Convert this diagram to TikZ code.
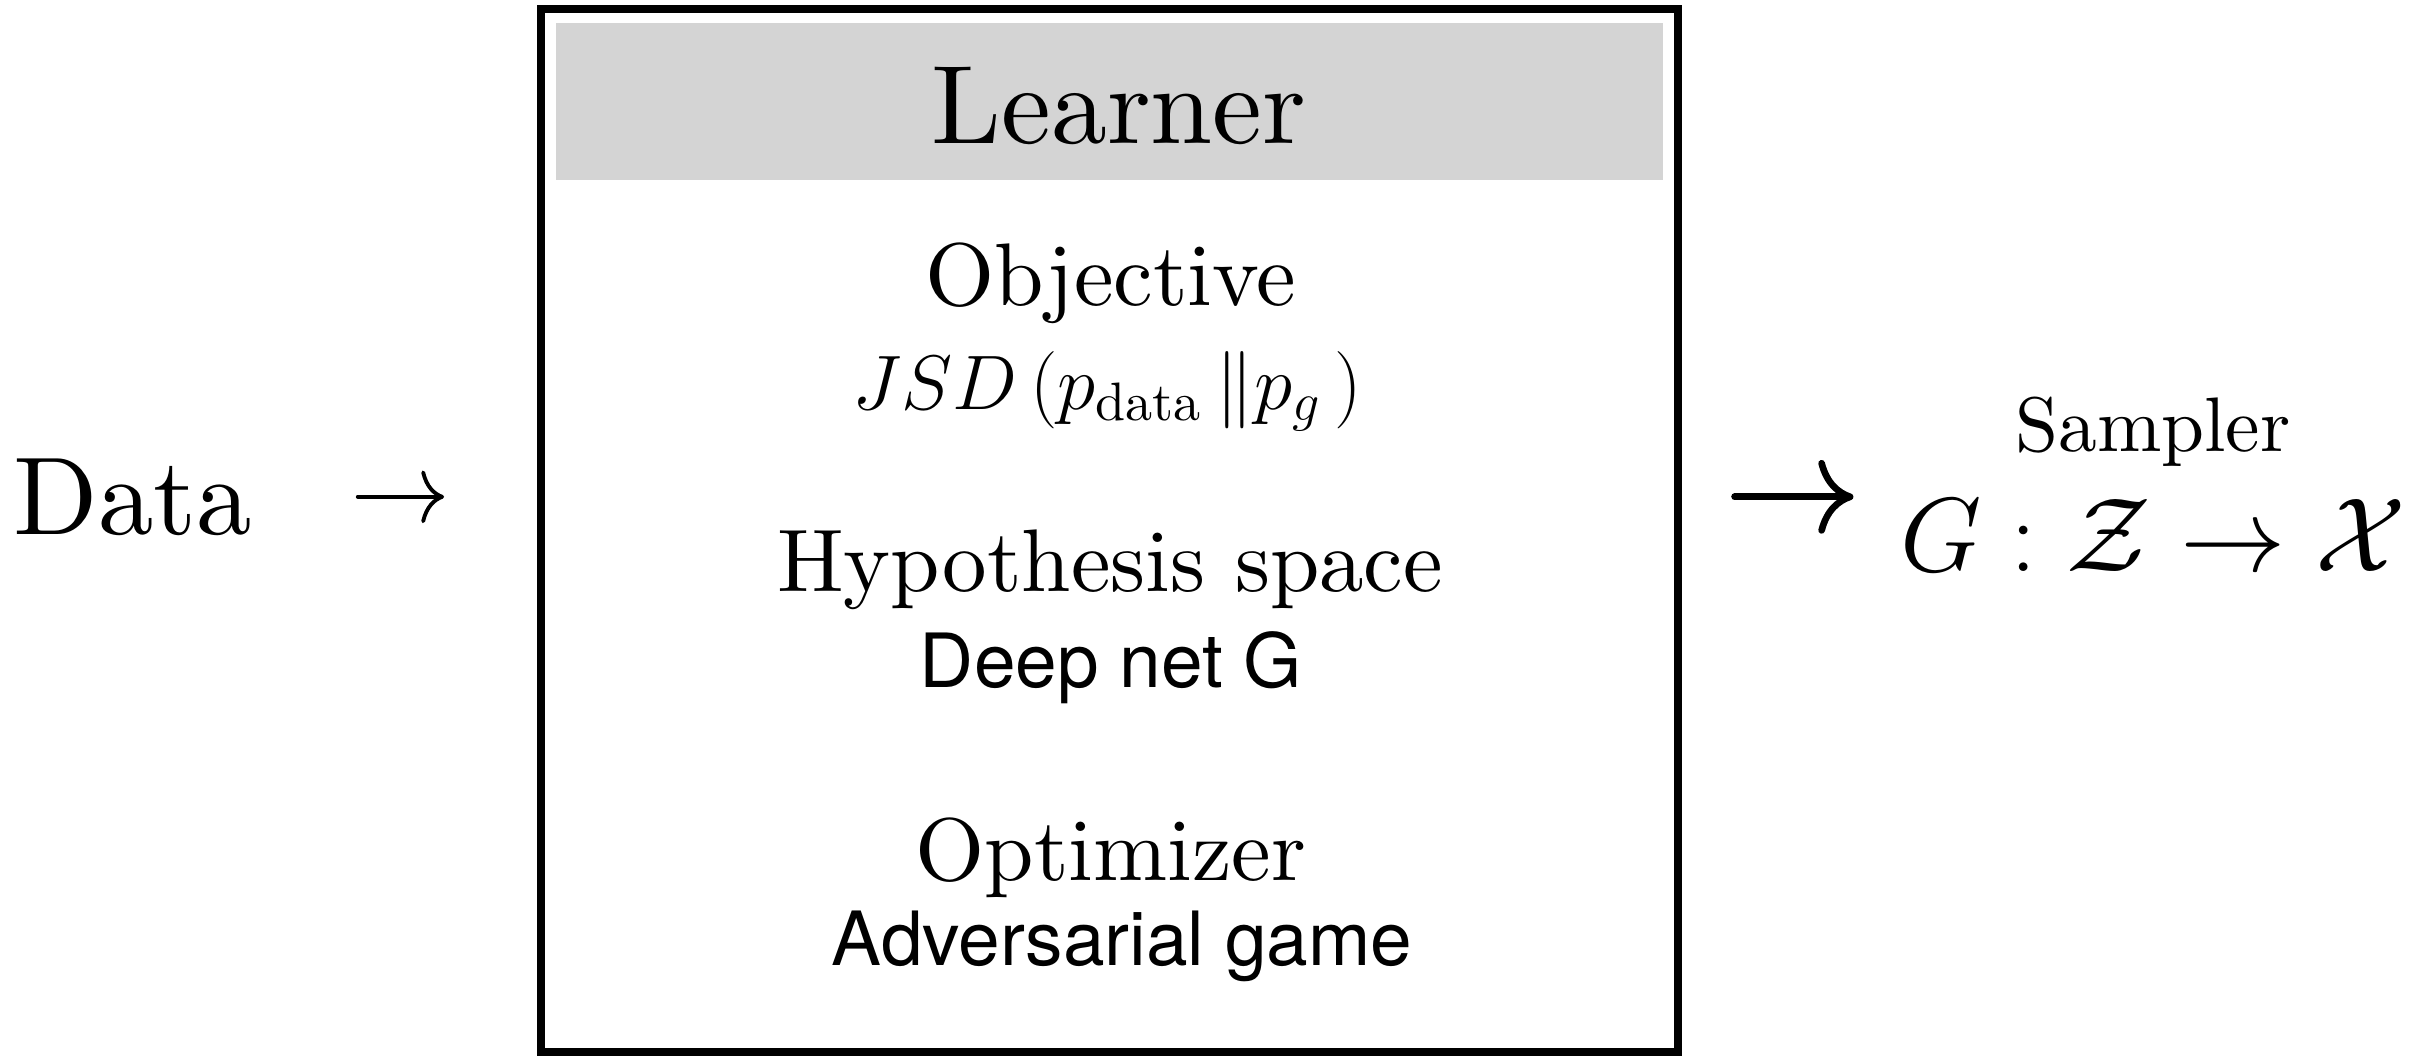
\documentclass[tikz,border=0pt]{standalone}
\usepackage{fix-cm}
\usepackage{amsmath}
\usepackage{fontspec}
\setmainfont{lmroman10-regular}[Extension=.otf, ItalicFont=lmroman10-italic]
\newfontfamily\helv{TeX Gyre Heros}
\usetikzlibrary{arrows.meta, positioning, calc}
\definecolor{cHeader}{RGB}{212,212,212}
\tikzset{
	learnerbox/.style={rectangle, draw=black, line width=0.08cm, minimum width=11.365cm, minimum height=10.425cm, inner sep=0pt},
	header/.style={rectangle, fill=cHeader, minimum width=11.07cm, minimum height=1.57cm, inner sep=0pt},
	title/.style={anchor=base, inner sep=0pt, font=\fontsize{25.3}{30}\selectfont},
	detail/.style={anchor=base, inner sep=0pt, font=\helv\fontsize{21.3}{25}\selectfont},
	flowarrow/.style={-{Computer Modern Rightarrow[width=15pt, length=6.5pt]}, line width=1.1pt, line cap=round},
	bigarrow/.style={-{Computer Modern Rightarrow[width=21pt, length=10pt]}, line width=1.9pt, line cap=round},
}

\begin{document}
\begin{tikzpicture}
	\useasboundingbox (0,0) rectangle (24.2,-10.61);
	% learner box
	\node[learnerbox] (box) at (11.093,-5.303) {};
	\node[header, below=0.17cm of box.north] (head) {};
	\node[anchor=base, inner sep=0pt, font=\fontsize{31.8}{36}\selectfont] (learner) at (11.19,-1.43) {Learner};
	\node[title] (obj) at (11.11,-3.05) {Objective};
	\node[title, font=\fontsize{22}{26}\selectfont] (jsd) at (11.07,-4.09) {$JSD\left(p_{\mathrm{data}}\,\|p_g\,\right)$};
	\node[title] (hyp) at (11.10,-5.91) {Hypothesis space};
	\node[detail] (net) at (11.11,-6.87) {Deep net G};
	\node[title] (opt) at (11.11,-8.80) {Optimizer};
	\node[detail] (game) at (11.22,-9.65) {Adversarial game};
	% input and output
	\node[anchor=base west, inner sep=0pt, font=\fontsize{31.5}{36}\selectfont] (data) at (0.13,-5.34) {Data};
	\node[anchor=base, inner sep=0pt, font=\fontsize{22}{26}\selectfont] (sampler) at (21.53,-4.51) {Sampler};
	\node[anchor=base, inner sep=0pt, font=\fontsize{30}{36}\selectfont] (gmap) at (21.53,-5.71) {$G:\mathcal{Z}\to\mathcal{X}$};
	\draw[flowarrow, shorten <=1.05cm, shorten >=0.93cm] (data.east) -- (data.east -| box.west);
	\draw[bigarrow, shorten <=0.53cm, shorten >=0.46cm] (data.east -| box.east) -- (data.east -| gmap.west);
\end{tikzpicture}
\end{document}
